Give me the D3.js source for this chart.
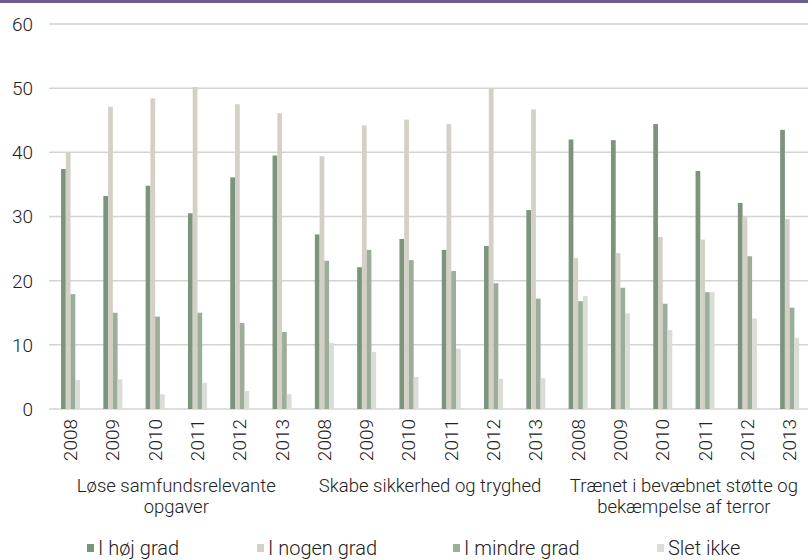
<!DOCTYPE html>
<html>
<head>
<meta charset="utf-8">
<style>
  body{
    margin: 0;
    background: #fff;
    font-family: 'Roboto', 'Liberation Sans', sans-serif;
  }
  svg text { fill: #222; font-weight: 300; }
</style>
</head>
<body>
<svg id='svgVis'></svg>

<script src="https://cdn.jsdelivr.net/npm/d3@7/dist/d3.min.js"></script>
<script>

var groups = ["Løse samfundsrelevante opgaver", "Skabe sikkerhed og tryghed", "Trænet i bevæbnet støtte og bekæmpelse af terror"];
var groupLines = [["Løse samfundsrelevante", "opgaver"], ["Skabe sikkerhed og tryghed"], ["Trænet i bevæbnet støtte og", "bekæmpelse af terror"]];
var years = ["2008", "2009", "2010", "2011", "2012", "2013"];
var seriesNames = ["I høj grad", "I nogen grad", "I mindre grad", "Slet ikke"];
var seriesColors = ["#7b947b", "#d4d0c6", "#9cae9a", "#dadcd6"];

// values per group, year order 2008..2013
var hojGrad = [
  [37.4, 33.2, 34.8, 30.5, 36.1, 39.5],
  [27.2, 22.1, 26.5, 24.8, 25.4, 31.0],
  [42.0, 41.9, 44.4, 37.1, 32.1, 43.5]
];
var nogenGrad = [
  [40.0, 47.1, 48.4, 50.2, 47.5, 46.1],
  [39.4, 44.2, 45.1, 44.4, 50.0, 46.7],
  [23.5, 24.3, 26.8, 26.4, 29.9, 29.6]
];
var mindreGrad = [
  [17.9, 15.0, 14.4, 15.0, 13.4, 12.0],
  [23.1, 24.8, 23.2, 21.5, 19.6, 17.2],
  [16.8, 18.9, 16.4, 18.2, 23.8, 15.8]
];
var sletIkke = [
  [4.5, 4.6, 2.3, 4.1, 2.8, 2.3],
  [10.3, 8.9, 5.0, 9.4, 4.7, 4.8],
  [17.6, 14.9, 12.3, 18.2, 14.1, 11.1]
];
var yTicks = [0, 10, 20, 30, 40, 50, 60];

var width = 808, height = 560;

var svg = d3.select("#svgVis")
    .attr("width", width)
    .attr("height", height);

// purple rule along the top
svg.append("rect")
  .attr("x", 0).attr("y", 0)
  .attr("width", width).attr("height", 3)
  .attr("fill", "#6b5b8f");

var allSeries = [hojGrad, nogenGrad, mindreGrad, sletIkke];

// flat list of categories
var cats = [];
groups.forEach(function(g, gi) {
  years.forEach(function(yr, yi) {
    cats.push({ key: gi + "-" + yr, group: gi, yi: yi, year: yr });
  });
});

var x = d3.scaleBand()
  .domain(cats.map(function(d) { return d.key; }))
  .range([49.4, 810.8])
  .paddingInner(0)
  .paddingOuter(0);

var x1 = d3.scaleBand()
  .domain(d3.range(seriesNames.length))
  .range([0, 19]);

var y = d3.scaleLinear()
  .domain([0, 60])
  .range([409, 24]);

// gridlines
svg.append("g")
  .selectAll("line")
  .data(yTicks)
  .enter()
  .append("line")
  .attr("x1", 49)
  .attr("x2", width)
  .attr("y1", function(d) { return y(d); })
  .attr("y2", function(d) { return y(d); })
  .attr("stroke", "#d3d3d3")
  .attr("stroke-width", 1.5);

// y tick labels
svg.append("g")
  .selectAll("text")
  .data(yTicks)
  .enter()
  .append("text")
  .attr("x", 33)
  .attr("y", function(d) { return y(d); })
  .attr("dy", "0.36em")
  .attr("text-anchor", "end")
  .style("font-size", "19px")
  .text(function(d) { return d; });

// bars
var catG = svg.append("g")
  .selectAll("g")
  .data(cats)
  .enter()
  .append("g")
  .attr("transform", function(d) {
    return "translate(" + (x(d.key) + (x.bandwidth() - 19) / 2) + ",0)";
  });

catG.selectAll("rect")
  .data(function(d) {
    return allSeries.map(function(s, si) { return { si: si, v: s[d.group][d.yi] }; });
  })
  .enter()
  .append("rect")
  .attr("x", function(d) { return x1(d.si); })
  .attr("width", x1.bandwidth())
  .attr("y", function(d) { return y(d.v); })
  .attr("height", function(d) { return y(0) - y(d.v); })
  .attr("fill", function(d) { return seriesColors[d.si]; });

// year labels, rotated
svg.append("g")
  .selectAll("text")
  .data(cats)
  .enter()
  .append("text")
  .attr("transform", function(d) {
    return "translate(" + (x(d.key) + x.bandwidth() / 2 + 6.5) + ",419) rotate(-90)";
  })
  .attr("text-anchor", "end")
  .style("font-size", "19px")
  .text(function(d) { return d.year; });

// group labels, one text per line
groupLines.forEach(function(lines, gi) {
  var first = x(gi + "-" + years[0]);
  var last = x(gi + "-" + years[years.length - 1]) + x.bandwidth();
  var cx = (first + last) / 2;
  svg.append("g")
    .selectAll("text")
    .data(lines)
    .enter()
    .append("text")
    .attr("x", cx)
    .attr("y", function(d, i) { return 492 + i * 21; })
    .attr("text-anchor", "middle")
    .style("font-size", "18.5px")
    .text(function(d) { return d; });
});

// legend
var legendX = [87, 257, 453, 657];
var legend = svg.append("g")
  .selectAll("g")
  .data(seriesNames)
  .enter()
  .append("g")
  .attr("transform", function(d, i) { return "translate(" + legendX[i] + ",548)"; });

legend.append("rect")
  .attr("x", 0).attr("y", -4)
  .attr("width", 7).attr("height", 8)
  .attr("fill", function(d, i) { return seriesColors[i]; });

legend.append("text")
  .attr("x", 11)
  .attr("dy", "0.36em")
  .style("font-size", "20px")
  .text(function(d) { return d; });

</script>
</body>
</html>
